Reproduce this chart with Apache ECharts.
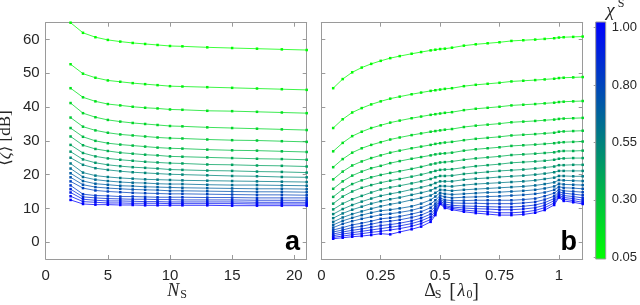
<!DOCTYPE html>
<html><head><meta charset="utf-8">
<script src="https://cdn.jsdelivr.net/npm/echarts@6/dist/echarts.min.js"></script>
<style>html,body{margin:0;padding:0;background:#fff}#c{width:640px;height:305px}</style>
</head><body><div id="c"></div>
<script>
// ---- data ----
const chiValues = [0.05,0.10,0.15,0.20,0.25,0.30,0.35,0.40,0.45,0.50,0.55,0.60,0.65,0.70,0.75,0.80,0.85,0.90,0.95,1.00];
const nsValues = [2,3,4,5,6,7,8,9,10,11,13,15,17,19,21];
const deltaValues = [0.05,0.09,0.13,0.17,0.21,0.25,0.29,0.33,0.38,0.42,0.46,0.48,0.5,0.52,0.55,0.6,0.65,0.7,0.75,0.8,0.85,0.9,0.94,0.98,1.0,1.02,1.06,1.1];
const leftXTicks = [0,5,10,15,20];
const rightXTicks = [0,0.25,0.5,0.75,1];
const rightXTickLabels = ['0','0.25','0.5','0.75','1'];
const yTicks = [0,10,20,30,40,50,60];
const colorbarTickLabels = ['0.05','0.30','0.55','0.80','1.00'];

// panel a : <zeta> vs N_S, one array per chi^S
const zetaA01 = [65.0,62.0,60.7,59.9,59.4,59.0,58.7,58.4,58.1,58.0,57.7,57.5,57.3,57.1,56.9];
const zetaA02 = [52.7,49.9,48.7,47.9,47.5,47.1,46.8,46.5,46.2,46.1,45.9,45.7,45.5,45.3,45.1];
const zetaA03 = [45.6,42.9,41.7,40.9,40.5,40.1,39.8,39.6,39.3,39.2,38.9,38.8,38.6,38.4,38.2];
const zetaA04 = [41.2,38.2,37.0,36.2,35.7,35.3,35.0,34.7,34.4,34.3,34.0,33.8,33.6,33.4,33.2];
const zetaA05 = [36.9,34.2,33.1,32.4,31.9,31.6,31.3,31.0,30.8,30.7,30.4,30.2,30.1,29.9,29.7];
const zetaA06 = [33.8,31.2,30.0,29.3,28.9,28.6,28.3,28.0,27.8,27.7,27.4,27.2,27.1,26.9,26.7];
const zetaA07 = [31.3,28.7,27.6,27.0,26.5,26.2,25.9,25.7,25.4,25.3,25.1,24.9,24.7,24.6,24.4];
const zetaA08 = [28.8,26.4,25.4,24.8,24.4,24.1,23.8,23.6,23.4,23.3,23.0,22.9,22.7,22.6,22.4];
const zetaA09 = [26.8,24.5,23.5,22.9,22.5,22.2,22.0,21.8,21.5,21.4,21.2,21.1,20.9,20.8,20.6];
const zetaA10 = [25.0,22.9,21.9,21.4,21.0,20.7,20.5,20.3,20.1,20.0,19.8,19.6,19.5,19.3,19.2];
const zetaA11 = [23.3,20.6,19.7,19.3,19.0,18.8,18.6,18.5,18.4,18.3,18.2,18.1,18.0,17.9,17.8];
const zetaA12 = [21.8,19.3,18.5,18.1,17.8,17.6,17.5,17.3,17.2,17.2,17.0,16.9,16.9,16.8,16.7];
const zetaA13 = [20.4,18.1,17.3,17.0,16.7,16.6,16.4,16.3,16.2,16.1,16.0,15.9,15.8,15.8,15.7];
const zetaA14 = [19.2,17.0,16.3,16.0,15.8,15.6,15.5,15.4,15.2,15.2,15.1,15.0,14.9,14.9,14.8];
const zetaA15 = [18.0,16.0,15.3,15.0,14.8,14.6,14.5,14.4,14.3,14.3,14.2,14.1,14.0,14.0,13.9];
const zetaA16 = [16.8,14.2,13.8,13.7,13.5,13.5,13.4,13.3,13.3,13.3,13.2,13.2,13.1,13.1,13.1];
const zetaA17 = [15.7,13.4,13.1,12.9,12.8,12.7,12.7,12.6,12.6,12.5,12.5,12.5,12.4,12.4,12.4];
const zetaA18 = [14.7,12.7,12.4,12.2,12.2,12.1,12.0,12.0,11.9,11.9,11.9,11.9,11.8,11.8,11.8];
const zetaA19 = [13.6,12.0,11.8,11.6,11.6,11.5,11.5,11.5,11.4,11.4,11.4,11.4,11.3,11.3,11.3];
const zetaA20 = [12.5,11.3,11.1,11.1,11.0,11.0,10.9,10.9,10.9,10.9,10.9,10.8,10.8,10.8,10.8];

// panel b : <zeta> vs Delta_S, one array per chi^S
const zetaB01 = [45.6,48.3,50.3,51.7,52.8,53.7,54.5,55.1,55.8,56.3,56.8,57.0,57.2,57.3,57.6,58.2,58.6,58.9,59.2,59.6,59.8,60.0,60.2,60.4,60.6,60.7,60.8,60.9];
const zetaB02 = [33.8,36.4,38.4,39.7,40.8,41.7,42.5,43.1,43.8,44.3,44.8,45.0,45.2,45.4,45.6,46.2,46.6,46.9,47.2,47.6,47.8,48.0,48.2,48.4,48.6,48.7,48.8,48.9];
const zetaB03 = [26.9,29.4,31.4,32.7,33.8,34.6,35.4,36.0,36.7,37.2,37.7,37.9,38.1,38.3,38.5,39.1,39.5,39.8,40.1,40.5,40.7,40.9,41.1,41.3,41.5,41.6,41.7,41.8];
const zetaB04 = [22.2,24.6,26.5,27.8,28.8,29.6,30.4,31.0,31.7,32.2,32.7,32.9,33.1,33.3,33.5,34.1,34.5,34.8,35.1,35.5,35.7,35.9,36.1,36.3,36.5,36.6,36.7,36.8];
const zetaB05 = [18.6,20.9,22.7,23.9,24.9,25.7,26.5,27.1,27.8,28.3,28.8,29.1,29.3,29.5,29.7,30.2,30.6,30.9,31.2,31.6,31.8,32.0,32.2,32.4,32.7,32.8,32.9,33.0];
const zetaB06 = [15.8,18.0,19.7,20.9,21.9,22.6,23.4,24.0,24.7,25.2,25.7,26.0,26.2,26.3,26.5,27.1,27.5,27.8,28.1,28.5,28.7,28.9,29.1,29.3,29.5,29.6,29.7,29.8];
const zetaB07 = [13.4,15.6,17.2,18.3,19.2,19.9,20.5,21.0,21.7,22.3,23.0,23.3,23.6,23.7,23.9,24.4,24.8,25.1,25.4,25.8,26.0,26.2,26.4,26.6,26.9,27.0,27.0,27.1];
const zetaB08 = [11.4,13.5,15.0,16.1,16.9,17.6,18.2,18.7,19.4,20.0,20.7,21.1,21.4,21.5,21.6,22.1,22.5,22.8,23.1,23.5,23.7,23.9,24.1,24.4,24.7,24.8,24.9,24.9];
const zetaB09 = [9.7,11.4,12.7,13.7,14.7,15.6,16.2,16.7,17.4,18.0,18.7,19.2,19.6,19.6,19.7,20.2,20.5,20.8,21.1,21.3,21.5,21.8,22.1,22.4,22.8,22.8,22.9,22.9];
const zetaB10 = [8.3,9.8,11.0,12.0,12.9,13.7,14.3,14.8,15.6,16.2,16.9,17.5,18.0,18.0,18.0,18.5,18.8,19.0,19.3,19.5,19.7,20.0,20.3,20.7,21.1,21.1,21.1,21.1];
const zetaB11 = [7.1,8.5,9.6,10.5,11.4,12.1,12.7,13.2,14.0,14.6,15.3,16.0,16.6,16.6,16.5,16.9,17.2,17.4,17.6,17.8,18.0,18.3,18.7,19.1,19.6,19.6,19.5,19.5];
const zetaB12 = [6.0,7.3,8.3,9.1,9.9,10.6,11.2,11.7,12.5,13.1,13.8,14.6,15.5,15.4,15.2,15.5,15.7,15.9,16.1,16.3,16.5,16.8,17.2,17.7,18.4,18.3,18.2,18.1];
const zetaB13 = [5.1,6.3,7.2,8.0,8.7,9.3,9.6,10.0,10.6,11.4,12.5,13.5,14.6,14.3,14.1,14.3,14.5,14.7,14.8,15.0,15.2,15.5,15.9,16.5,17.3,17.1,17.0,16.9];
const zetaB14 = [4.3,5.4,6.2,6.9,7.5,8.1,8.4,8.8,9.4,10.2,11.3,12.4,13.8,13.4,13.1,13.3,13.4,13.5,13.6,13.8,14.0,14.3,14.7,15.5,16.4,16.1,16.0,15.8];
const zetaB15 = [3.6,4.3,5.1,5.6,6.2,6.9,7.2,7.6,8.3,9.0,10.2,11.4,13.1,12.5,12.3,12.3,12.4,12.4,12.4,12.4,12.6,12.9,13.6,14.5,15.6,15.2,15.0,14.8];
const zetaB16 = [3.0,3.6,4.3,4.7,5.3,5.9,6.2,6.6,7.3,8.0,9.2,10.6,12.6,11.9,11.6,11.5,11.5,11.4,11.4,11.4,11.6,11.9,12.6,13.6,14.9,14.5,14.2,13.9];
const zetaB17 = [2.4,3.0,3.5,3.9,4.4,4.9,5.2,5.6,6.3,7.1,8.3,9.9,12.2,11.3,10.9,10.7,10.6,10.5,10.4,10.4,10.6,11.0,11.7,12.9,14.4,13.8,13.5,13.1];
const zetaB18 = [1.9,2.4,2.8,3.2,3.6,4.0,4.4,4.8,5.5,6.3,7.5,9.2,11.8,10.8,10.4,10.1,9.9,9.8,9.6,9.6,9.8,10.2,10.9,12.3,13.9,13.2,12.9,12.4];
const zetaB19 = [1.4,1.8,2.2,2.5,2.9,3.2,3.6,4.0,4.7,5.5,6.7,8.6,11.5,10.5,10.0,9.5,9.2,9.0,8.7,8.7,8.9,9.4,10.2,11.6,13.5,12.7,12.3,11.8];
const zetaB20 = [1.0,1.3,1.6,1.8,2.1,2.5,2.3,3.0,3.8,4.6,6.0,8.0,11.3,10.1,9.6,9.0,8.6,8.3,8.0,8.0,8.2,8.7,9.5,11.0,13.2,12.2,11.8,11.3];

const panelA = [zetaA01,zetaA02,zetaA03,zetaA04,zetaA05,zetaA06,zetaA07,zetaA08,zetaA09,zetaA10,zetaA11,zetaA12,zetaA13,zetaA14,zetaA15,zetaA16,zetaA17,zetaA18,zetaA19,zetaA20];
const panelB = [zetaB01,zetaB02,zetaB03,zetaB04,zetaB05,zetaB06,zetaB07,zetaB08,zetaB09,zetaB10,zetaB11,zetaB12,zetaB13,zetaB14,zetaB15,zetaB16,zetaB17,zetaB18,zetaB19,zetaB20];

// ---- styling ----
const chiMin = chiValues[0], chiMax = chiValues[chiValues.length-1];
function chiColor(chi){
  const t = (chi - chiMin) / (chiMax - chiMin);
  return 'rgb(0,' + Math.round(255*(1-t)) + ',' + Math.round(255*t) + ')';
}
const BOX = '#9a9a9a';
const TXT = '#262626';
const SANS = '"Liberation Sans", Arial, sans-serif';
const SERIF = '"Liberation Serif", "DejaVu Serif", serif';

function frameAxis(extra){
  return Object.assign({
    axisLine:{show:true,onZero:false,lineStyle:{color:BOX,width:1}},
    axisTick:{show:true,inside:true,length:4,lineStyle:{color:BOX}},
    axisLabel:{show:false},
    splitLine:{show:false}
  }, extra);
}
function labels(vals, fmt, margin){
  return {show:true,customValues:vals,color:TXT,fontFamily:SANS,fontSize:15,margin:margin,formatter:fmt};
}
function ticks(vals){ return {show:true,inside:true,length:4,customValues:vals,lineStyle:{color:BOX}}; }

const series = [];
chiValues.forEach((chi,k)=>{
  const c = chiColor(chi);
  series.push({
    type:'line', xAxisIndex:0, yAxisIndex:0,
    data: nsValues.map((x,i)=>[x, panelA[k][i]]),
    symbol:'rect', symbolSize:2.5, showSymbol:true, showAllSymbol:true,
    lineStyle:{color:c,width:0.9,opacity:0.85}, itemStyle:{color:c},
    silent:true, z:3
  });
  series.push({
    type:'line', xAxisIndex:2, yAxisIndex:2,
    data: deltaValues.map((x,i)=>[x, panelB[k][i]]),
    symbol:'rect', symbolSize:2.5, showSymbol:true, showAllSymbol:true,
    lineStyle:{color:c,width:0.9,opacity:0.85}, itemStyle:{color:c},
    silent:true, z:3
  });
});
// colorbar
series.push({
  type:'custom', xAxisIndex:4, yAxisIndex:4, data:[[0]], silent:true,
  renderItem:function(params, api){
    const cs = params.coordSys;
    return {type:'rect', shape:{x:cs.x,y:cs.y,width:cs.width,height:cs.height},
      style:{fill:new echarts.graphic.LinearGradient(0,1,0,0,[
        {offset:0,color:chiColor(chiMin)},{offset:1,color:chiColor(chiMax)}]), stroke:BOX, lineWidth:1}};
  }
});

const option = {
  animation:false,
  backgroundColor:'#fff',
  grid:[
    {left:45.7, top:22.7, width:261, height:236.3},
    {left:321.3, top:22.7, width:261.4, height:236.3},
    {left:595.7, top:22, width:15, height:237}
  ],
  xAxis:[
    frameAxis({type:'value', gridIndex:0, position:'bottom', min:0, max:21,
      axisLabel:labels(leftXTicks, v=>String(v), 9), axisTick:ticks(leftXTicks)}),
    frameAxis({type:'value', gridIndex:0, position:'top', min:0, max:21, axisTick:ticks(leftXTicks)}),
    frameAxis({type:'value', gridIndex:1, position:'bottom', min:0, max:1.1,
      axisLabel:labels(rightXTicks, v=>rightXTickLabels[rightXTicks.indexOf(v)] ?? String(v), 9), axisTick:ticks(rightXTicks)}),
    frameAxis({type:'value', gridIndex:1, position:'top', min:0, max:1.1, axisTick:ticks(rightXTicks)}),
    {type:'value', gridIndex:2, min:0, max:1, show:false}
  ],
  yAxis:[
    frameAxis({type:'value', gridIndex:0, position:'left', min:-5, max:65,
      axisLabel:labels(yTicks, v=>String(v), 6), axisTick:ticks(yTicks)}),
    frameAxis({type:'value', gridIndex:0, position:'right', min:-5, max:65, axisTick:ticks(yTicks)}),
    frameAxis({type:'value', gridIndex:1, position:'left', min:-5, max:65, axisTick:ticks(yTicks)}),
    frameAxis({type:'value', gridIndex:1, position:'right', min:-5, max:65, axisTick:ticks(yTicks)}),
    {type:'value', gridIndex:2, position:'right', min:-0.031, max:4.098,
      axisLine:{show:false}, splitLine:{show:false},
      axisTick:{show:true,inside:true,length:2,customValues:[0,1,2,3,4],lineStyle:{color:BOX}},
      axisLabel:{show:true,customValues:[0,1,2,3,4],formatter:v=>colorbarTickLabels[Math.round(v)],
        color:TXT,fontFamily:SANS,fontSize:13,margin:6}}
  ],
  series:series,
  graphic:[
    {type:'text', x:6, y:138, rotation:Math.PI/2, silent:true,
      style:{text:'⟨{i|ζ}⟩ [dB]', fill:TXT, font:'17px '+SERIF, align:'center', verticalAlign:'middle',
        textAlign:'center', textVerticalAlign:'middle',
        rich:{i:{fontStyle:'italic', fontSize:17, fontFamily:SERIF, fill:TXT}}}},
    {type:'text', x:173.3, y:291, silent:true, style:{text:'N', fill:TXT, font:'italic 18px '+SERIF, textAlign:'center', textVerticalAlign:'middle'}},
    {type:'text', x:183.5, y:295, silent:true, style:{text:'S', fill:TXT, font:'12px '+SERIF, textAlign:'center', textVerticalAlign:'middle'}},
    {type:'text', x:430, y:291, silent:true, style:{text:'Δ', fill:TXT, font:'18px '+SERIF, textAlign:'center', textVerticalAlign:'middle'}},
    {type:'text', x:438, y:295, silent:true, style:{text:'S', fill:TXT, font:'12px '+SERIF, textAlign:'center', textVerticalAlign:'middle'}},
    {type:'text', x:452.5, y:292, silent:true, style:{text:'[', fill:TXT, font:'20px '+SERIF, textAlign:'center', textVerticalAlign:'middle'}},
    {type:'text', x:461.5, y:291, silent:true, style:{text:'λ', fill:TXT, font:'italic 18px '+SERIF, textAlign:'center', textVerticalAlign:'middle'}},
    {type:'text', x:469.5, y:295, silent:true, style:{text:'0', fill:TXT, font:'12px '+SERIF, textAlign:'center', textVerticalAlign:'middle'}},
    {type:'text', x:475.5, y:292, silent:true, style:{text:']', fill:TXT, font:'20px '+SERIF, textAlign:'center', textVerticalAlign:'middle'}},
    {type:'text', x:300, y:243, silent:true, style:{text:'a', fill:'#000', font:'bold 27px '+SANS, textAlign:'right', textVerticalAlign:'middle'}},
    {type:'text', x:577, y:243, silent:true, style:{text:'b', fill:'#000', font:'bold 27px '+SANS, textAlign:'right', textVerticalAlign:'middle'}},
    {type:'text', x:610.5, y:11, silent:true, style:{text:'χ', fill:TXT, font:'italic 19px '+SERIF, textAlign:'center', textVerticalAlign:'middle'}},
    {type:'text', x:621, y:4, silent:true, style:{text:'S', fill:TXT, font:'12px '+SERIF, textAlign:'center', textVerticalAlign:'middle'}}
  ]
};
const chart = echarts.init(document.getElementById('c'), null, {renderer:'canvas'});
chart.setOption(option);
</script>
</body></html>
